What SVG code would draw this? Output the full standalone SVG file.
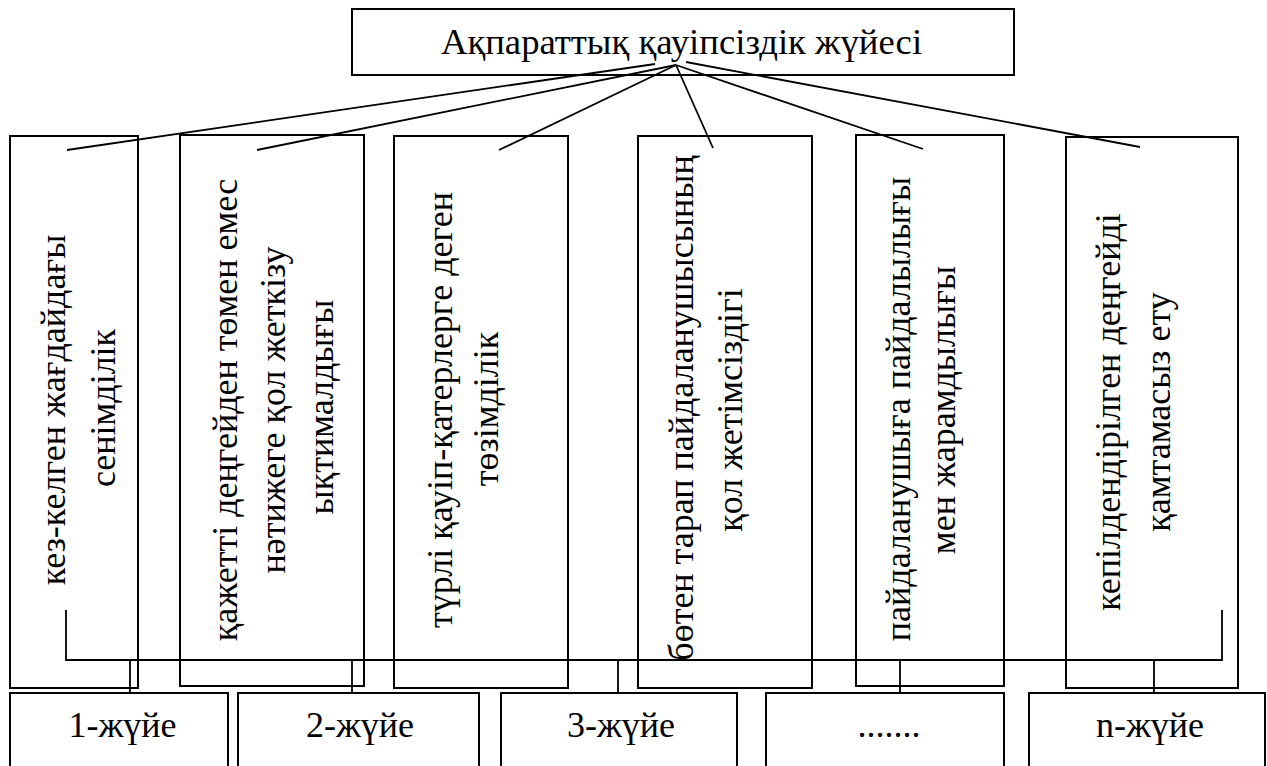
<svg xmlns="http://www.w3.org/2000/svg" width="1267" height="766" viewBox="0 0 1267 766">
<style>
.box{fill:#fff;stroke:#000;stroke-width:2}
.t{font-family:"Liberation Serif","DejaVu Serif",serif;font-size:36px;fill:#000;text-anchor:middle}
.c{stroke:#000;stroke-width:1.8;fill:none}
</style>
<rect width="1267" height="766" fill="#fff"/>
<g id="root">
<rect class="box" x="352" y="9" width="662" height="66"/>
<text class="t" x="681.5" y="54" style="font-size:36.7px">Ақпараттық қауіпсіздік жүйесі</text>
</g>
<g id="n1">
<rect class="box" x="10" y="136" width="128" height="552"/>
<text class="t" transform="translate(65,410) rotate(-90)">кез-келген жағдайдағы</text>
<text class="t" transform="translate(115,408) rotate(-90)">сенімділік</text>
</g>
<g id="n2">
<rect class="box" x="180" y="135" width="184" height="551"/>
<text class="t" transform="translate(237,410) rotate(-90)">қажетті деңгейден төмен емес</text>
<text class="t" transform="translate(285,410) rotate(-90)">нәтижеге қол жеткізу</text>
<text class="t" transform="translate(333,407) rotate(-90)">ықтималдығы</text>
</g>
<g id="n3">
<rect class="box" x="394" y="136" width="174" height="552"/>
<text class="t" transform="translate(452,410) rotate(-90)">түрлі қауіп-қатерлерге деген</text>
<text class="t" transform="translate(498,409) rotate(-90)">төзімділік</text>
</g>
<g id="n4">
<rect class="box" x="638" y="136" width="174" height="552"/>
<text class="t" transform="translate(693,408) rotate(-90)">бөтен тарап пайдаланушысының</text>
<text class="t" transform="translate(742,410) rotate(-90)">қол жетімсіздігі</text>
</g>
<g id="n5">
<rect class="box" x="856" y="135" width="148" height="551"/>
<text class="t" transform="translate(910,409) rotate(-90)">пайдаланушыға пайдалылығы</text>
<text class="t" transform="translate(955,410) rotate(-90)">мен жарамдылығы</text>
</g>
<g id="n6">
<rect class="box" x="1066" y="137" width="172" height="551"/>
<text class="t" transform="translate(1120,412) rotate(-90)">кепілдендірілген деңгейді</text>
<text class="t" transform="translate(1170,412) rotate(-90)">қамтамасыз ету</text>
</g>
<g id="s1">
<rect class="box" x="10" y="693" width="218" height="85"/>
<text class="t" x="122.5" y="737">1-жүйе</text>
</g>
<g id="s2">
<rect class="box" x="238" y="693" width="241" height="85"/>
<text class="t" x="360" y="737">2-жүйе</text>
</g>
<g id="s3">
<rect class="box" x="501" y="693" width="236" height="85"/>
<text class="t" x="621" y="737">3-жүйе</text>
</g>
<g id="s4">
<rect class="box" x="766" y="693" width="238" height="85"/>
<text class="t" x="889" y="737">.......</text>
</g>
<g id="sn">
<rect class="box" x="1029" y="693" width="236" height="85"/>
<text class="t" x="1150" y="737">n-жүйе</text>
</g>
<g id="connectors">
<line class="c" x1="655" y1="64" x2="67" y2="150"/>
<line class="c" x1="676" y1="65" x2="257" y2="150"/>
<line class="c" x1="676" y1="65" x2="499" y2="150"/>
<line class="c" x1="676" y1="65" x2="713" y2="148"/>
<line class="c" x1="676" y1="65" x2="923" y2="149"/>
<line class="c" x1="686" y1="62" x2="1140" y2="147"/>
<polyline class="c" points="66,610 66,660 1222,660 1222,610"/>
<line class="c" x1="130" y1="660" x2="130" y2="693"/>
<line class="c" x1="352" y1="660" x2="352" y2="693"/>
<line class="c" x1="618" y1="660" x2="618" y2="693"/>
<line class="c" x1="900" y1="660" x2="900" y2="693"/>
<line class="c" x1="1154" y1="660" x2="1154" y2="693"/>
</g>
</svg>
